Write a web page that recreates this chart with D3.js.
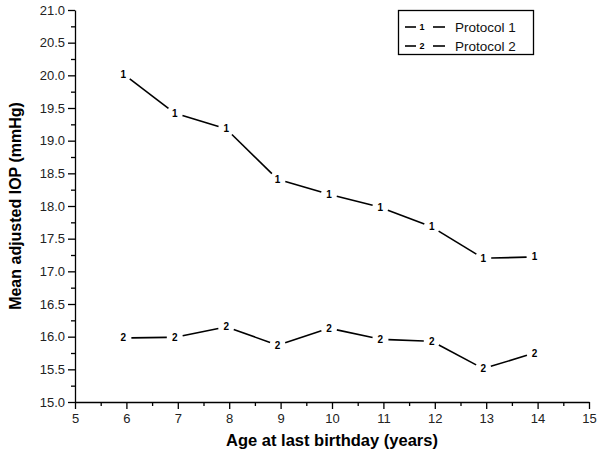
<!DOCTYPE html>
<html>
<head>
<meta charset="utf-8">
<script src="https://cdn.jsdelivr.net/npm/d3@7"></script>
<style>
  body { margin: 0; background: #fff; }
  svg { display: block; font-family: "Liberation Sans", Arial, sans-serif; }
</style>
</head>
<body>
<svg id="chart" width="600" height="462"></svg>
<script>
const ages = [6, 7, 8, 9, 10, 11, 12, 13, 14];
const protocol1 = [20.02, 19.42, 19.18, 18.41, 18.18, 17.98, 17.68, 17.20, 17.22];
const protocol2 = [15.98, 15.99, 16.15, 15.87, 16.13, 15.96, 15.93, 15.51, 15.75];
const seriesNames = ["Protocol 1", "Protocol 2"];
const seriesSymbols = ["1", "2"];
const xTicks = [5, 6, 7, 8, 9, 10, 11, 12, 13, 14, 15];
const yTicks = [15.0, 15.5, 16.0, 16.5, 17.0, 17.5, 18.0, 18.5, 19.0, 19.5, 20.0, 20.5, 21.0];
const xMinorTicks = [5.5, 6.5, 7.5, 8.5, 9.5, 10.5, 11.5, 12.5, 13.5, 14.5];
const yMinorTicks = d3.range(15.25, 21, 0.5);
const xTitle = "Age at last birthday (years)";
const yTitle = "Mean adjusted IOP (mmHg)";

const svg = d3.select("#chart");
const margin = {left: 75, top: 10, right: 11, bottom: 60};
const W = 600, H = 462;
const x = d3.scaleLinear().domain([5, 15]).range([margin.left, W - margin.right]);
const y = d3.scaleLinear().domain([15, 21]).range([H - margin.bottom, margin.top]);

// minor ticks
const xMinor = svg.append("g").attr("transform", `translate(0,${y(15)})`)
  .call(d3.axisBottom(x).tickValues(xMinorTicks).tickSize(4).tickFormat(""));
xMinor.select(".domain").remove();
const yMinor = svg.append("g").attr("transform", `translate(${x(5)},0)`)
  .call(d3.axisLeft(y).tickValues(yMinorTicks).tickSize(4).tickFormat(""));
yMinor.select(".domain").remove();

const xAxis = svg.append("g").attr("transform", `translate(0,${y(15)})`)
  .call(d3.axisBottom(x).tickValues(xTicks).tickSize(7).tickPadding(5).tickSizeOuter(0).tickFormat(d3.format("d")));
const yAxis = svg.append("g").attr("transform", `translate(${x(5)},0)`)
  .call(d3.axisLeft(y).tickValues(yTicks).tickSize(7).tickPadding(3).tickSizeOuter(0).tickFormat(d3.format(".1f")));

[xAxis, yAxis, xMinor, yMinor].forEach(g => {
  g.selectAll("path, line").attr("stroke", "#000").attr("stroke-width", 1.3);
  g.selectAll("text").attr("font-size", 13).attr("fill", "#222")
    .attr("font-family", "'Liberation Sans', Arial, sans-serif");
});

svg.append("text").attr("x", (x(5) + x(15)) / 2).attr("y", 446)
  .attr("text-anchor", "middle").attr("font-weight", "bold").attr("font-size", 16.5)
  .text(xTitle);
svg.append("text").attr("transform", `translate(21,${(y(15) + y(21)) / 2}) rotate(-90)`)
  .attr("text-anchor", "middle").attr("font-weight", "bold").attr("font-size", 16)
  .text(yTitle);

// series
const series = [protocol1, protocol2];
const gap = 8;
const plot = svg.append("g").attr("transform", "translate(-3,0)");
series.forEach((vals, si) => {
  const pts = ages.map((a, i) => [x(a), y(vals[i])]);
  for (let i = 0; i < pts.length - 1; i++) {
    const [x0, y0] = pts[i], [x1, y1] = pts[i + 1];
    const dx = x1 - x0, dy = y1 - y0, L = Math.hypot(dx, dy);
    const ux = dx / L, uy = dy / L;
    plot.append("line")
      .attr("x1", x0 + ux * gap).attr("y1", y0 + uy * gap)
      .attr("x2", x1 - ux * gap).attr("y2", y1 - uy * gap)
      .attr("stroke", "#000").attr("stroke-width", 1.6);
  }
  plot.selectAll(null).data(pts).enter().append("text")
    .attr("x", d => d[0]).attr("y", d => d[1] + 3.5)
    .attr("text-anchor", "middle").attr("font-size", 10).attr("font-weight", "bold")
    .text(seriesSymbols[si]);
});

// legend
const lg = svg.append("g");
lg.append("rect").attr("x", 398.5).attr("y", 10.5).attr("width", 135).attr("height", 44)
  .attr("fill", "#fff").attr("stroke", "#000").attr("stroke-width", 1.3);
seriesNames.forEach((name, i) => {
  const cy = 27 + i * 19;
  lg.append("line").attr("x1", 405).attr("x2", 416).attr("y1", cy).attr("y2", cy)
    .attr("stroke", "#000").attr("stroke-width", 1.6);
  lg.append("text").attr("x", 422).attr("y", cy + 3).attr("text-anchor", "middle")
    .attr("font-size", 9).attr("font-weight", "bold").text(seriesSymbols[i]);
  lg.append("line").attr("x1", 433).attr("x2", 445).attr("y1", cy).attr("y2", cy)
    .attr("stroke", "#000").attr("stroke-width", 1.6);
  lg.append("text").attr("x", 455).attr("y", cy + 5).attr("font-size", 13.5)
    .attr("fill", "#111").text(name);
});
</script>
</body>
</html>
